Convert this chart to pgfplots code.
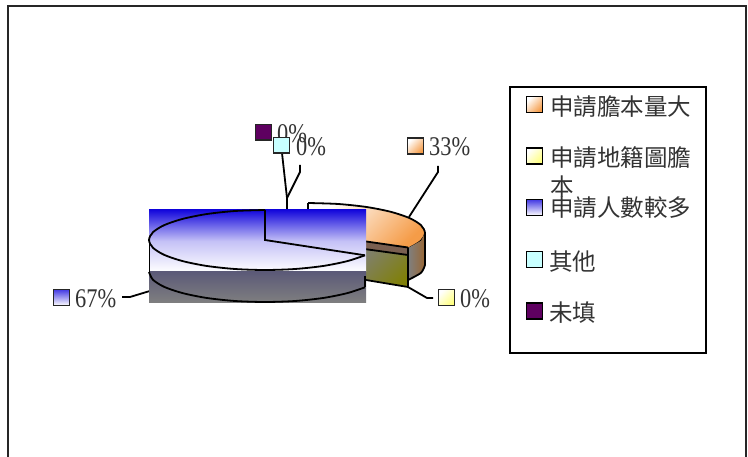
\documentclass[border=0pt]{standalone}
\usepackage{fontspec}
\usepackage{pgfplots}
\pgfplotsset{compat=1.18}
\setmainfont{Liberation Serif}
\newfontfamily\cjk{Noto Sans CJK TC}
\definecolor{orangeC}{HTML}{F59C48}
\definecolor{blueC}{HTML}{1408DC}
\definecolor{cyanC}{HTML}{C8FFFF}
\definecolor{purpC}{HTML}{5E0060}
\definecolor{yelC}{HTML}{FFFF80}
\newcommand\pct[3]{\node[anchor=west,inner sep=0pt,text=black!80] at (axis cs:#1,#2) {\scalebox{0.83}[1]{\fontsize{27}{27}\selectfont #3}};}
\newcommand\lgd[3]{\node[anchor=west,inner sep=0pt,text=black!80] at (axis cs:#1,#2) {\cjk\fontsize{23.5}{24}\selectfont #3};}
\pgfplotsset{ln/.style={black, line width=1.8pt}}
\begin{document}
\begin{tikzpicture}
\path (0pt,0pt) rectangle (748pt,457pt);
\begin{axis}[
  scale only axis, width=748pt, height=457pt,
  xmin=0, xmax=748, ymin=0, ymax=457, y dir=reverse,
  axis lines=none, clip=true, ticks=none,
]
% outer frame
\addplot[black!85, line width=2pt] coordinates {(7.5,457) (7.5,6) (746,6) (746,457)};
% orange slice, top face
\addplot[draw=none, top color=white, bottom color=orangeC, shading angle=45] coordinates {
 (308,233) (308,203) (338.3,204) (366.5,207) (390.7,211.8) (409.3,218) (421,225.2) (425,233) (421,240.8) (409.3,248) (308,233)};
\addplot[ln] coordinates {(308,233) (308,203)};
\addplot[ln, smooth] coordinates {(308,203) (338.3,204) (366.5,207) (390.7,211.8) (409.3,218) (421,225.2) (425,233) (421,240.8) (409.3,248)};
% outer wall
\addplot[draw=none, left color=black!50, right color=brown!80!black] coordinates {
 (425,233) (421,240.8) (408,248) (408,280) (421,272.8) (425,265) (425,233)};
\addplot[ln] coordinates {(425,233) (425,265) };
\addplot[ln, smooth] coordinates {(425,265) (421,272.8) (408,280)};
% inner walls
\addplot[fill={rgb,255:red,122;green,95;blue,80}, draw=none] coordinates {(360,240.6) (408,247.5) (408,255) (360,248.4) (360,240.6)};
\addplot[draw=none, top color={rgb,255:red,128;green,128;blue,106}, bottom color={rgb,255:red,128;green,128;blue,10}, shading angle=45] coordinates {(360,248.4) (408,255) (408,287) (360,279) (360,248.4)};
\addplot[ln] coordinates {(360,240.6) (408,247.5)};
\addplot[ln] coordinates {(360,248.4) (408,255)};
\addplot[ln] coordinates {(408,247.5) (408,287) (360,279)};
% leader lines
\addplot[ln] coordinates {(438,166) (438,172) (409,217)};
\addplot[ln] coordinates {(408,287) (427,298) (433,298)};
\addplot[ln] coordinates {(282,153) (287,198) (287,210)};
\addplot[ln] coordinates {(300,165) (300,172) (287,198)};
\addplot[ln] coordinates {(122,297) (130,297) (163,287)};
% blue slice: picture rectangles
\addplot[draw=none, top color=blueC, bottom color=white, middle color=blueC!25!white] coordinates {(149,210) (366,210) (366,272) (149,272) (149,210)};
\addplot[draw=none, top color={rgb,255:red,92;green,90;blue,120}, bottom color=black!50] coordinates {(149,272) (366,272) (366,303) (149,303) (149,272)};
% blue slice: outlines
\addplot[ln, smooth] coordinates {(265,210) (235,211) (207,214) (183,218.8) (164.5,225) (153,232.2) (149,240) (153,247.8) (164.5,255) (183,261.2) (207,266) (235,269) (265,270) (295,269) (323,266) (347,261.2) (365,255.3)};
\addplot[ln] coordinates {(265,210) (265,240) (365,255.3)};
\addplot[black, line width=1pt] coordinates {(149,240) (149,272)};
\addplot[ln, smooth] coordinates {(149,272) (153,279.8) (164.5,287) (183,293.2) (207,298) (235,301) (265,302) (295,301) (323,298) (347,293.2) (365,287.3)};
\addplot[ln] coordinates {(365,276) (365,287.3)};
% data label swatches
\addplot[draw=black!85, line width=1.8pt, top color=white, bottom color=orangeC, shading angle=45] coordinates {(407.5,138) (423.5,138) (423.5,154) (407.5,154) (407.5,138) (423.5,138)};
\addplot[draw=black!85, line width=1.8pt, top color=white, bottom color=yelC, shading angle=45] coordinates {(438.5,289.5) (454.5,289.5) (454.5,305.5) (438.5,305.5) (438.5,289.5) (454.5,289.5)};
\addplot[draw=black!85, line width=1.8pt, top color=blueC!80, bottom color=white] coordinates {(53.5,289.5) (69.5,289.5) (69.5,305.5) (53.5,305.5) (53.5,289.5) (69.5,289.5)};
\addplot[draw=black!85, line width=1.8pt, fill=purpC] coordinates {(255.5,124.5) (271.5,124.5) (271.5,140) (255.5,140) (255.5,124.5) (271.5,124.5)};
\pct{277}{134}{0\%}
\addplot[draw=black!85, line width=1.8pt, fill=cyanC] coordinates {(273.5,137.5) (289.5,137.5) (289.5,153) (273.5,153) (273.5,137.5) (289.5,137.5)};
\pct{296}{147}{0\%}
\pct{429}{147}{33\%}
\pct{460}{299}{0\%}
\pct{75}{299}{67\%}
% legend
\addplot[draw=black, line width=2pt, fill=white] coordinates {(509.5,87.5) (705.5,87.5) (705.5,353.5) (509.5,353.5) (509.5,87.5) (705.5,87.5)};
\addplot[draw=black, line width=1.8pt, top color=white, bottom color=orangeC, shading angle=45] coordinates {(526.5,96.5) (542.5,96.5) (542.5,112.5) (526.5,112.5) (526.5,96.5) (542.5,96.5)};
\addplot[draw=black, line width=1.8pt, top color=white, bottom color=yelC, shading angle=45] coordinates {(526.5,148) (542.5,148) (542.5,164) (526.5,164) (526.5,148) (542.5,148)};
\addplot[draw=black, line width=1.8pt, top color=blueC!80, bottom color=white] coordinates {(526.5,199.5) (542.5,199.5) (542.5,215.5) (526.5,215.5) (526.5,199.5) (542.5,199.5)};
\addplot[draw=black, line width=1.8pt, fill=cyanC] coordinates {(526.5,251.5) (542.5,251.5) (542.5,267.5) (526.5,267.5) (526.5,251.5) (542.5,251.5)};
\addplot[draw=black, line width=1.8pt, fill=purpC] coordinates {(526.5,303) (542.5,303) (542.5,319) (526.5,319) (526.5,303) (542.5,303)};
\lgd{550}{107}{申請膽本量大}
\lgd{550}{158}{申請地籍圖膽}
\lgd{550}{187}{本}
\lgd{550}{208}{申請人數較多}
\lgd{549}{262}{其他}
\lgd{549}{313}{未填}
\end{axis}
\end{tikzpicture}
\end{document}
